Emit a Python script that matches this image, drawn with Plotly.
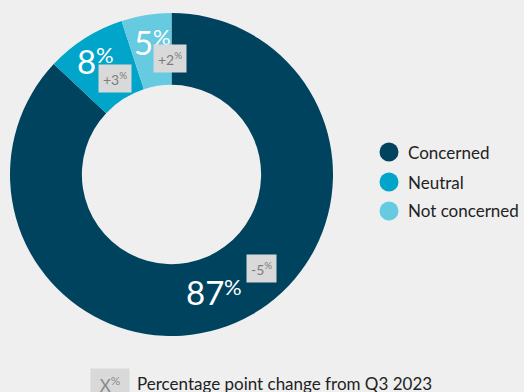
import plotly.graph_objects as go

# Survey responses
labels = ["Concerned", "Neutral", "Not concerned"]
values = [87, 8, 5]
changes = ["-5", "+3", "+2"]          # percentage point change from Q3 2023
colors = ["#00435f", "#00a5c9", "#66cbe0"]

W, H = 524, 392
BG = "#efefef"
FONT = "Lato"
PAD = 3  # annotation inner padding in px

def px(x):
    return x / W

def py(y):
    return 1 - y / H

# Where each value label and change badge sits (pixel coordinates)
value_anchor = [(223, 292), (95, 61), (152, 42)]     # right edge of digits, digit middle
badge_center = [(261, 268.5), (114.5, 78), (170, 59)]

fig = go.Figure()

fig.add_trace(go.Pie(
    labels=labels,
    values=values,
    marker=dict(colors=colors, line=dict(width=0)),
    hole=0.555,
    sort=False,
    direction="clockwise",
    rotation=0,
    textinfo="none",
    hoverinfo="label+percent",
    showlegend=False,
    domain=dict(x=[px(10), px(333)], y=[py(337), py(12)]),
))

annotations = []
shapes = []

for v, ch, (ax, ay), (bx, by) in zip(values, changes, value_anchor, badge_center):
    # big white value
    annotations.append(dict(
        x=px(ax + PAD), y=py(ay), xref="paper", yref="paper",
        text=str(v), showarrow=False, xanchor="right", yanchor="middle",
        font=dict(family=FONT, size=33, color="white"),
    ))
    # smaller percent sign, raised to the top of the digits
    annotations.append(dict(
        x=px(ax + 2 - PAD), y=py(ay - 6), xref="paper", yref="paper",
        text="%", showarrow=False, xanchor="left", yanchor="middle",
        font=dict(family=FONT, size=22, color="white"),
    ))
    # grey change badge
    annotations.append(dict(
        x=px(bx), y=py(by), xref="paper", yref="paper",
        text=ch + "<sup>%</sup>", showarrow=False, xanchor="center", yanchor="middle",
        font=dict(family=FONT, size=14, color="#7d7d7d"),
        bgcolor="#d9d9d9", borderpad=4,
    ))

# Legend with round swatches
legend_y = [152, 182, 211]
for lab, col, ly in zip(labels, colors, legend_y):
    shapes.append(dict(
        type="circle", xref="paper", yref="paper",
        x0=px(379.5), x1=px(398.5), y0=py(ly + 9.5), y1=py(ly - 9.5),
        fillcolor=col, line=dict(width=0),
    ))
    annotations.append(dict(
        x=px(406), y=py(ly), xref="paper", yref="paper",
        text=lab, showarrow=False, xanchor="left", yanchor="middle",
        font=dict(family=FONT, size=17, color="#222222"),
    ))

# Key for the change badges
annotations.append(dict(
    x=px(110), y=py(384), xref="paper", yref="paper",
    text="X<sup>%</sup>", showarrow=False, xanchor="center", yanchor="middle",
    font=dict(family=FONT, size=17, color="#8a8a8a"),
    bgcolor="#d9d9d9", borderpad=4, width=30,
))
annotations.append(dict(
    x=px(135), y=py(383), xref="paper", yref="paper",
    text="Percentage point change from Q3 2023", showarrow=False,
    xanchor="left", yanchor="middle",
    font=dict(family=FONT, size=17, color="#222222"),
))

fig.update_layout(
    width=W, height=H,
    margin=dict(l=0, r=0, t=0, b=0),
    paper_bgcolor=BG, plot_bgcolor=BG,
    annotations=annotations,
    shapes=shapes,
    showlegend=False,
)

fig.write_html("out.html")
